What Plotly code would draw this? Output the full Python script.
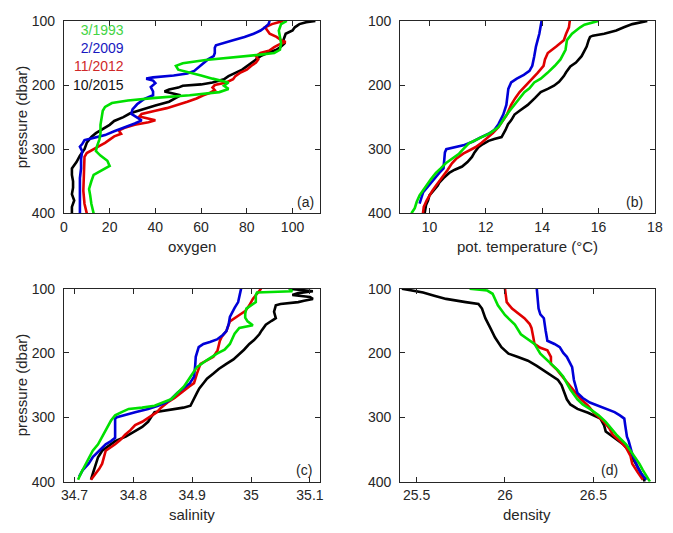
import plotly.graph_objects as go

# ---------------- data ----------------
# (a) oxygen
oxy_1993_p = [100,105,115,125,135,145,150,153,157,161,166,170,176,180,185,190,196,201,206,211,216,220,224,228,234,240,250,262,275,285,295,303,310,318,326,332,340,350,362,372,385,400]
oxy_1993   = [97.5,95,94,94.5,95,94.5,92,85,72,62,52,49,50,55,60,65,72,70,72,68,55,40,28,21,18,17,16.5,16,16,15.5,14.5,14,16,19,20,17,13,12,11,11.5,12,13]
oxy_2009_p = [100,105,110,115,120,125,130,135,138,142,150,155,160,166,172,178,182,185,188,190,193,197,203,210,216,222,230,238,245,250,255,260,266,272,278,283,286,292,296,303,315,330,345,360,380,400]
oxy_2009   = [90,89.5,88,86,83,79,74,69,66.5,66,66,65.5,63,61,59,57,54,48,39,36,39,40,38,39,39,35,32,30,29.5,32,34,31,26,22,18,13,9,8,7,8,7.5,7.5,7,7,7,7]
oxy_2012_p = [100,105,110,115,120,125,130,133,137,141,146,150,155,160,165,170,176,181,186,191,196,200,204,208,212,216,221,226,231,236,240,245,249,252,255,258,262,266,271,276,280,285,290,296,302,306,312,325,345,365,385,400]
oxy_2012   = [96,91,88,89,90,93,95,97,94,92,90,86,84,85,84,82,80,77,75,74,71,66,65,66,64,61,58,54,50,45,40,34,33,37,40,37,31,27,24,25,22,20,18,15,12,10,9,8.8,8.5,8.5,9,10]
oxy_2015_p = [100,102,105,110,115,120,125,130,135,140,145,150,155,160,166,171,176,181,186,191,196,199,201,204,207,210,213,216,220,226,232,238,244,250,256,262,268,275,281,290,300,310,320,330,340,350,360,370,380,390,400]
oxy_2015   = [110,106,103,101,100,97,96.5,96,96.5,95,93,89,86,84,82,80,78,75,72,70,65,60,52,50,46,44,48,51,49,46,40,35,29,26,22,20,17,14,12,10,9,7,5.5,3.5,3.5,4,4,3.5,4.5,3.5,3.5]

# (b) potential temperature
tem_1993_p = [100,103,106,110,115,120,130,145,160,170,181,190,196,205,211,220,231,240,251,260,266,275,281,286,291,300,307,315,322,330,337,347,357,365,372,382,392,400]
tem_1993   = [15.99,15.7,15.5,15.35,15.2,15.06,14.88,14.83,14.65,14.45,14.19,13.95,13.72,13.55,13.37,13.2,13.02,12.85,12.67,12.55,12.44,12.15,11.86,11.6,11.4,11.2,11.05,10.8,10.58,10.4,10.23,10.05,9.88,9.75,9.65,9.55,9.48,9.36]
tem_2009_p = [100,110,120,130,140,155,170,178,184,190,196,206,220,231,246,261,270,276,282,288,294,298,300,305,320,330,337,345,352,360,367,375,385]
tem_2009   = [13.98,13.95,13.9,13.84,13.78,13.72,13.65,13.55,13.35,13.1,12.9,12.8,12.77,12.73,12.62,12.45,12.3,12.1,11.8,11.55,11.2,10.8,10.6,10.55,10.52,10.5,10.35,10.2,10.05,9.9,9.78,9.72,9.65]
tem_2012_p = [100,110,120,130,140,146,150,160,170,181,190,196,205,211,220,231,246,256,266,275,281,290,297,303,307,315,322,332,342,350,357,365,372,380,390,400]
tem_2012   = [14.98,14.95,14.85,14.77,14.5,14.33,14.2,14.1,14.05,13.84,13.65,13.5,13.3,13.2,13.05,12.9,12.75,12.6,12.44,12.25,12.1,11.85,11.63,11.4,11.2,10.95,10.8,10.65,10.47,10.35,10.23,10.1,10.0,9.9,9.8,9.77]
tem_2015_p = [100,103,105,110,115,120,123,125,130,140,150,155,165,171,180,186,195,201,206,211,220,231,240,246,255,261,270,281,284,287,292,297,305,312,320,327,332,337,345,352,357,365,372,380,387,400]
tem_2015   = [17.73,17.4,17.2,16.9,16.63,16.2,15.8,15.7,15.65,15.58,15.45,15.4,15.2,15.0,14.85,14.77,14.6,14.42,14.2,13.95,13.75,13.49,13.2,13.02,12.9,12.79,12.7,12.56,12.3,12.1,11.9,11.74,11.6,11.51,11.35,11.16,10.9,10.7,10.5,10.35,10.29,10.15,10.0,9.95,9.88,9.83]

# (c) salinity
sal_1993_p = [100,104,106,110,121,131,139,145,151,157,161,170,176,186,195,201,211,222,237,252,262,272,277,282,285,287,292,297,305,312,322,332,342,352,362,372,385,397]
sal_1993   = [35.065,35.07,35.01,35.008,35.008,34.992,34.99,34.99,34.994,35.003,34.98,34.972,34.969,34.964,34.955,34.942,34.925,34.908,34.897,34.886,34.875,34.864,34.85,34.836,34.815,34.792,34.78,34.769,34.762,34.758,34.752,34.747,34.74,34.731,34.725,34.719,34.712,34.706]
sal_2009_p = [100,110,121,130,136,144,155,166,172,179,183,186,191,200,206,220,237,247,255,262,272,277,282,287,292,296,300,302,317,332,337,342,352,362,372,382,392]
sal_2009   = [34.983,34.98,34.978,34.972,34.969,34.964,34.962,34.958,34.952,34.942,34.93,34.919,34.911,34.908,34.906,34.905,34.903,34.896,34.885,34.875,34.864,34.855,34.842,34.825,34.803,34.785,34.772,34.769,34.769,34.769,34.762,34.753,34.742,34.731,34.724,34.714,34.708]
sal_2012_p = [100,106,116,126,135,141,151,166,175,181,196,206,211,217,232,247,252,262,270,277,285,292,297,302,307,312,320,327,335,342,352,362,372,380,387,397]
sal_2012   = [35.017,35.012,35.003,34.997,34.99,34.98,34.964,34.958,34.95,34.947,34.943,34.936,34.925,34.914,34.908,34.903,34.895,34.881,34.87,34.858,34.847,34.84,34.832,34.825,34.815,34.803,34.795,34.786,34.778,34.769,34.753,34.75,34.747,34.742,34.736,34.728]
sal_2015_p = [100,102,104,107,110,113,116,119,121,124,126,136,146,150,156,165,171,180,186,195,201,210,217,225,232,240,247,255,262,272,282,285,287,290,292,300,307,315,322,330,337,345,352,362,372,385,397]
sal_2015   = [35.064,35.09,35.105,35.08,35.07,35.1,35.105,35.09,35.08,35.05,35.042,35.039,35.042,35.035,35.025,35.018,35.014,35.005,34.997,34.988,34.981,34.97,34.958,34.945,34.936,34.925,34.919,34.912,34.908,34.903,34.897,34.885,34.869,34.85,34.836,34.83,34.825,34.815,34.803,34.787,34.769,34.757,34.747,34.74,34.736,34.732,34.728]

# (d) density
den_1993_p = [100,103,108,116,126,141,156,171,186,201,217,227,237,257,272,280,287,297,307,317,327,342,352,362,372,382,392,400]
den_1993   = [25.8,25.9,25.93,25.944,25.96,26.0,26.056,26.09,26.167,26.2,26.26,26.3,26.33,26.37,26.41,26.44,26.48,26.53,26.57,26.6,26.63,26.685,26.71,26.74,26.76,26.78,26.8,26.82]
den_2009_p = [100,115,131,140,146,165,181,186,191,200,206,222,242,262,270,277,282,287,292,297,302,312,322,330,337,347,357,367,377,387,397]
den_2009   = [26.18,26.185,26.19,26.2,26.22,26.23,26.24,26.28,26.31,26.33,26.35,26.38,26.39,26.41,26.44,26.48,26.53,26.57,26.62,26.65,26.675,26.68,26.685,26.69,26.7,26.71,26.72,26.735,26.75,26.77,26.8]
den_2012_p = [100,110,121,131,140,146,155,161,175,186,192,196,206,217,225,232,245,252,262,272,282,292,300,307,317,327,337,347,360,372,385,397]
den_2012   = [26.0,26.005,26.01,26.04,26.08,26.11,26.14,26.15,26.16,26.167,26.2,26.24,26.26,26.26,26.29,26.31,26.35,26.37,26.4,26.43,26.47,26.5,26.53,26.56,26.59,26.61,26.65,26.685,26.71,26.72,26.75,26.78]
den_2015_p = [100,103,106,111,116,121,124,131,146,161,176,191,201,206,212,220,227,235,242,250,257,265,272,280,287,293,302,312,322,332,342,352,362,375,392,400]
den_2015   = [25.417,25.48,25.537,25.6,25.667,25.778,25.85,25.87,25.889,25.917,25.944,25.98,26.02,26.07,26.13,26.18,26.22,26.26,26.3,26.32,26.33,26.34,26.35,26.37,26.41,26.47,26.54,26.56,26.57,26.62,26.67,26.7,26.72,26.75,26.78,26.79]

legend_labels = ["3/1993", "2/2009", "11/2012", "10/2015"]
x_titles = ["oxygen", "pot. temperature (°C)", "salinity", "density"]
y_title = "pressure (dbar)"
panel_tags = ["(a)", "(b)", "(c)", "(d)"]
y_ticks = [100, 200, 300, 400]

# ---------------- styling ----------------
FONT = "Liberation Sans, Arial, Helvetica, sans-serif"
AX = "#262626"
TICK_FS, TITLE_FS, LEG_FS = 14, 15, 14
col = {"3/1993": "#00e000", "2/2009": "#0000d8", "11/2012": "#e00000", "10/2015": "#000000"}
txtcol = {"3/1993": "#44d444", "2/2009": "#1818c0", "11/2012": "#d02828", "10/2015": "#111111"}

W, H = 673, 533
def px(x): return x / W
def py(y): return 1 - y / H

TOP = [py(211.7), py(13.3)]
BOT = [py(488.3), py(289.3)]
LEFT = [px(61), px(321.7)]
RIGHT = [px(403.3), px(662.7)]

panels = [
    dict(series={"3/1993": (oxy_1993_p, oxy_1993), "2/2009": (oxy_2009_p, oxy_2009),
                 "11/2012": (oxy_2012_p, oxy_2012), "10/2015": (oxy_2015_p, oxy_2015)},
         xr=[0, 112], dtick=20, tick0=0, xd=LEFT, yd=TOP, ylab=True, tag=(0.985, 0.06), xt_y=246),
    dict(series={"3/1993": (tem_1993_p, tem_1993), "2/2009": (tem_2009_p, tem_2009),
                 "11/2012": (tem_2012_p, tem_2012), "10/2015": (tem_2015_p, tem_2015)},
         xr=[8.96, 18], dtick=2, tick0=10, xd=RIGHT, yd=TOP, ylab=False, tag=(0.963, 0.06), xt_y=246),
    dict(series={"3/1993": (sal_1993_p, sal_1993), "2/2009": (sal_2009_p, sal_2009),
                 "11/2012": (sal_2012_p, sal_2012), "10/2015": (sal_2015_p, sal_2015)},
         xr=[34.682, 35.117], dtick=0.1, tick0=34.7, xd=LEFT, yd=BOT, ylab=True, tag=(0.975, 0.06), xt_y=522),
    dict(series={"3/1993": (den_1993_p, den_1993), "2/2009": (den_2009_p, den_2009),
                 "11/2012": (den_2012_p, den_2012), "10/2015": (den_2015_p, den_2015)},
         xr=[25.407, 26.848], dtick=0.5, tick0=25.5, xd=RIGHT, yd=BOT, ylab=False, tag=(0.865, 0.06), xt_y=522),
]

fig = go.Figure()
layout = dict(width=W, height=H, margin=dict(l=0, r=0, t=0, b=0),
              paper_bgcolor="white", plot_bgcolor="white", showlegend=False,
              font=dict(family=FONT, size=TICK_FS, color=AX))
annotations = []
draw_order = ["10/2015", "11/2012", "2/2009", "3/1993"]

for i, pan in enumerate(panels, start=1):
    xa = "x" if i == 1 else f"x{i}"
    ya = "y" if i == 1 else f"y{i}"
    for name in draw_order:
        p, v = pan["series"][name]
        fig.add_trace(go.Scatter(x=v, y=p, mode="lines", xaxis=xa, yaxis=ya,
                                 line=dict(color=col[name], width=2.6), name=name))
    layout["xaxis" if i == 1 else f"xaxis{i}"] = dict(
        domain=pan["xd"], anchor=ya, range=pan["xr"], tick0=pan["tick0"], dtick=pan["dtick"],
        ticks="inside", ticklen=5, tickcolor=AX, showline=True, linecolor=AX, linewidth=1,
        mirror="ticks", showgrid=False, zeroline=False, ticklabelstandoff=1,
        tickfont=dict(size=TICK_FS, color=AX))
    layout["yaxis" if i == 1 else f"yaxis{i}"] = dict(
        domain=pan["yd"], anchor=xa, range=[400, 100], tickvals=y_ticks,
        ticks="inside", ticklen=5, tickcolor=AX, showline=True, linecolor=AX, linewidth=1,
        mirror="ticks", showgrid=False, zeroline=False, ticklabelstandoff=5,
        tickfont=dict(size=TICK_FS, color=AX))
    # axis titles
    xc = (pan["xd"][0] + pan["xd"][1]) / 2
    annotations.append(dict(text=x_titles[i-1], xref="paper", yref="paper", x=xc, y=py(pan["xt_y"]),
                            xanchor="center", yanchor="middle", showarrow=False,
                            font=dict(size=TITLE_FS, color=AX)))
    if pan["ylab"]:
        yc = (pan["yd"][0] + pan["yd"][1]) / 2
        annotations.append(dict(text=y_title, xref="paper", yref="paper", x=px(17.5), y=yc,
                                xanchor="center", yanchor="middle", textangle=-90, showarrow=False,
                                font=dict(size=TITLE_FS, color=AX)))
    tx, ty = pan["tag"]
    annotations.append(dict(text=panel_tags[i-1], xref=f"{xa} domain", yref=f"{ya} domain",
                            x=tx, y=ty, xanchor="right", yanchor="middle", showarrow=False,
                            font=dict(size=TICK_FS, color=AX)))

# text legend (one block, each line in its series colour)
legend_text = "<br>".join(f"<span style='color:{txtcol[n]}'>{n}</span>" for n in legend_labels)
annotations.append(dict(text=legend_text, xref="paper", yref="paper", x=px(124), y=py(51.5),
                        xanchor="right", yanchor="middle", align="right", showarrow=False,
                        font=dict(size=LEG_FS, color=AX)))

layout["annotations"] = annotations
fig.update_layout(**layout)
fig.write_html("out.html")
